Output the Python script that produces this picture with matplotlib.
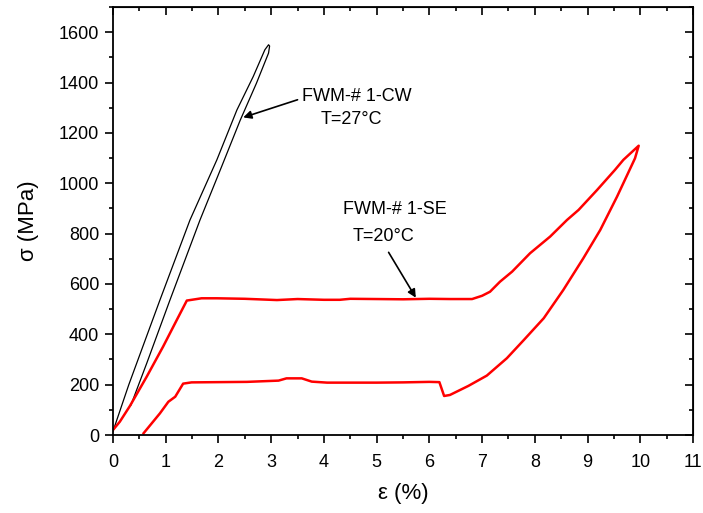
import numpy as np
import matplotlib.pyplot as plt
from matplotlib.ticker import MultipleLocator

plt.rcParams['font.family'] = ['Liberation Sans', 'DejaVu Sans']
plt.rcParams['font.size'] = 13

# CW sample, T=27C (loading then unloading)
cw_strain = [0.0, 0.3, 0.89, 1.46, 1.97, 2.35, 2.66, 2.88, 2.95, 2.97,
             2.95, 2.72, 2.41, 2.06, 1.65, 1.08, 0.64, 0.34]
cw_stress = [15, 200, 536, 854, 1093, 1291, 1424, 1530, 1550, 1545,
             1517, 1397, 1249, 1066, 854, 536, 285, 119]

# SE sample, T=20C (loading then unloading)
se_strain = [0.0, 0.13, 0.32, 0.64, 0.95, 1.21, 1.40, 1.68, 1.97, 2.5, 3.11,
             3.5, 4.0, 4.3, 4.5, 5.0, 5.5, 6.0, 6.4, 6.81, 7.00, 7.15, 7.34,
             7.57, 7.91, 8.29, 8.61, 8.83, 9.18, 9.52, 9.68, 9.97,
             9.90, 9.56, 9.24, 8.92, 8.54, 8.17, 7.79, 7.47, 7.09, 6.74,
             6.39, 6.28, 6.19, 6.0, 5.5, 5.0, 4.50, 4.06, 3.77, 3.58, 3.29,
             3.14, 2.54, 1.49, 1.33, 1.18, 1.05, 0.89, 0.58]
se_stress = [20, 53, 115, 232, 351, 457, 534, 543, 543, 541, 536,
             540, 537, 537, 541, 540, 539, 541, 540, 540, 553, 569, 609,
             649, 722, 788, 854, 894, 973, 1053, 1093, 1149,
             1099, 947, 814, 702, 576, 464, 377, 305, 236, 195,
             159, 155, 210, 211, 209, 208, 208, 208, 212, 225, 225,
             216, 211, 209, 204, 152, 132, 86, 7]

fig = plt.figure(figsize=(7.03, 5.13), dpi=100)
ax = fig.add_axes([113/703, 1 - 435/513, 580/703, 428/513])

ax.plot(cw_strain, cw_stress, color='black', lw=0.9)
ax.plot(se_strain, se_stress, color='red', lw=1.8)

ax.set_xlim(0, 11)
ax.set_ylim(0, 1700)
ax.xaxis.set_major_locator(MultipleLocator(1))
ax.xaxis.set_minor_locator(MultipleLocator(0.5))
ax.yaxis.set_minor_locator(MultipleLocator(100))
ax.set_yticks(np.arange(0, 1601, 200))

ax.tick_params(which='both', direction='out', width=1.2)
ax.tick_params(which='major', length=6)
ax.tick_params(which='minor', length=3)
ax.tick_params(axis='x', pad=8)
ax.tick_params(axis='y', pad=4)
for s in ax.spines.values():
    s.set_linewidth(1.3)

# inward ticks on top and right
axt = ax.secondary_xaxis('top')
axt.xaxis.set_major_locator(MultipleLocator(1))
axt.xaxis.set_minor_locator(MultipleLocator(0.5))
axt.tick_params(which='both', direction='in', labeltop=False, width=1.2)
axt.tick_params(which='major', length=6)
axt.tick_params(which='minor', length=3)
axr = ax.secondary_yaxis('right')
axr.yaxis.set_major_locator(MultipleLocator(200))
axr.yaxis.set_minor_locator(MultipleLocator(100))
axr.tick_params(which='both', direction='in', labelright=False, width=1.2)
axr.tick_params(which='major', length=6)
axr.tick_params(which='minor', length=3)

ax.set_xlabel('\u03b5 (%)', fontsize=16, labelpad=8)
ax.set_ylabel('\u03c3 (MPa)', fontsize=16, labelpad=14)

# annotations
ax.annotate('', xy=(2.42, 1258), xytext=(3.55, 1335),
            arrowprops=dict(arrowstyle='-|>', color='black', lw=1.2, mutation_scale=12))
ax.text(3.59, 1343, 'FWM-# 1-CW', ha='left', va='center', fontsize=13)
ax.text(3.93, 1255, 'T=27\u00b0C', ha='left', va='center', fontsize=13)

ax.annotate('', xy=(5.77, 536), xytext=(5.20, 735),
            arrowprops=dict(arrowstyle='-|>', color='black', lw=1.2, mutation_scale=12))
ax.text(4.36, 894, 'FWM-# 1-SE', ha='left', va='center', fontsize=13)
ax.text(4.55, 787, 'T=20\u00b0C', ha='left', va='center', fontsize=13)

fig.savefig('out.png', dpi=100)
